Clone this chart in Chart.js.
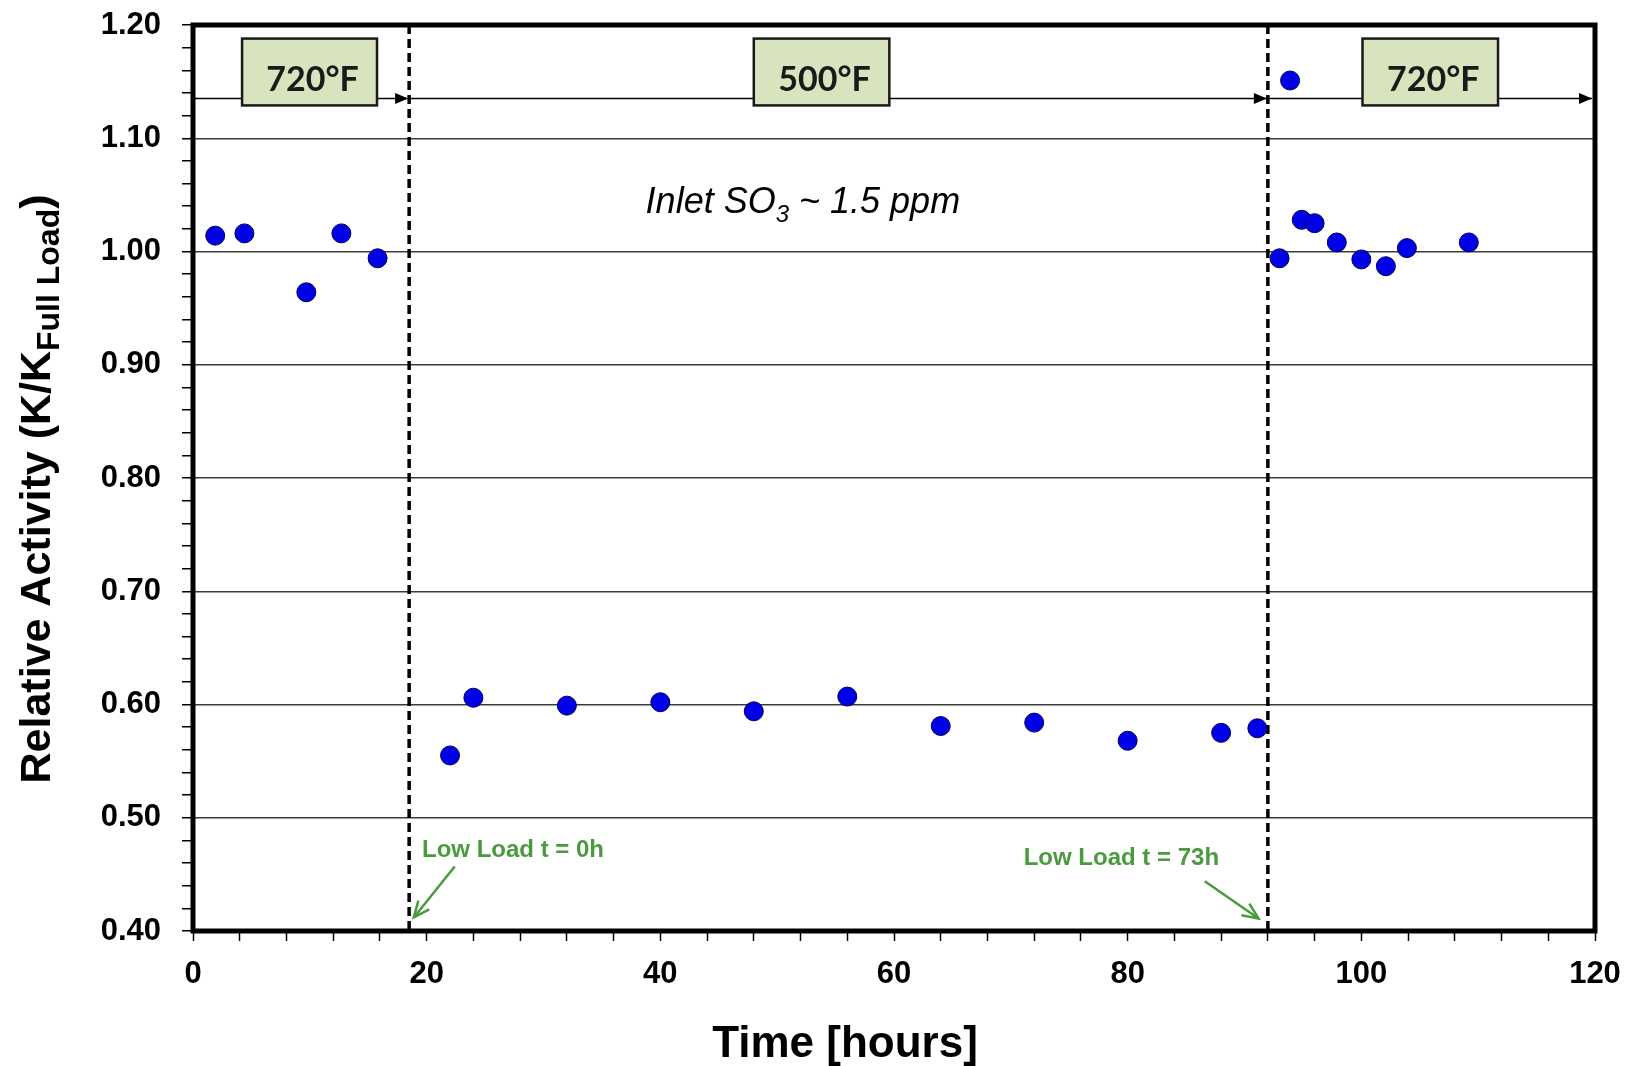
<!DOCTYPE html>
<html lang="en">
<head>
<meta charset="UTF-8">
<title>Relative Activity vs Time</title>
<script src="https://cdn.jsdelivr.net/npm/chart.js"></script>
<style>
  html, body { margin: 0; padding: 0; background: #fff; }
  canvas { display: block; }
</style>
</head>
<body>
<canvas id="chart" width="1637" height="1066"></canvas>
<script>
// full load, 720 F
const hoursBefore = [1.9, 4.4, 9.7, 12.7, 15.8];
const activityBefore = [1.014, 1.016, 0.964, 1.016, 0.994];
// low load, 500 F
const hoursLow = [22, 24, 32, 40, 48, 56, 64, 72, 80, 88, 91.1];
const activityLow = [0.555, 0.606, 0.599, 0.602, 0.594, 0.607, 0.581, 0.584, 0.568, 0.575, 0.579];
// back to 720 F
const hoursAfter = [93.0, 93.9, 94.9, 96.0, 97.9, 100.0, 102.1, 103.9, 109.2];
const activityAfter = [0.994, 1.151, 1.028, 1.025, 1.008, 0.993, 0.987, 1.003, 1.008];

const xTickLabels = [0, 20, 40, 60, 80, 100, 120];
const yTickLabels = ['0.40', '0.50', '0.60', '0.70', '0.80', '0.90', '1.00', '1.10', '1.20'];

const phaseBounds = [0, 18.5, 92, 120];
const phaseNames = ['720°F', '500°F', '720°F'];
const lowLoadNotes = ['Low Load t = 0h', 'Low Load t = 73h'];
const inletNote = ['Inlet SO', '3', ' ~ 1.5 ppm'];
const xTitle = 'Time [hours]';

const FONT = "'Liberation Sans', Arial, sans-serif";
const GREEN = '#4a9a3e';

function pts(xs, ys) {
  return xs.map((x, i) => ({ x: x, y: ys[i] }));
}

function isMajorY(v) {
  return yTickLabels.includes(v.toFixed(2)) && Math.abs(v * 10 - Math.round(v * 10)) < 1e-6;
}

function arrowHead(ctx, x1, y1, x2, y2, len, half, filled) {
  const a = Math.atan2(y2 - y1, x2 - x1);
  const bx = x2 - len * Math.cos(a), by = y2 - len * Math.sin(a);
  const px = -Math.sin(a) * half, py = Math.cos(a) * half;
  ctx.beginPath();
  ctx.moveTo(bx + px, by + py);
  ctx.lineTo(x2, y2);
  ctx.lineTo(bx - px, by - py);
  if (filled) { ctx.closePath(); ctx.fill(); } else { ctx.stroke(); }
}

const annotations = {
  id: 'annotations',
  beforeDatasetsDraw(chart) {
    const { ctx, chartArea: a } = chart;
    const sx = chart.scales.x, sy = chart.scales.y;
    ctx.save();

    // phase boundaries
    ctx.strokeStyle = '#000';
    ctx.lineWidth = 3.5;
    ctx.setLineDash([9, 5]);
    [phaseBounds[1], phaseBounds[2]].forEach(h => {
      const x = sx.getPixelForValue(h);
      ctx.beginPath();
      ctx.moveTo(x, a.top);
      ctx.lineTo(x, a.bottom);
      ctx.stroke();
    });
    ctx.setLineDash([]);

    // phase arrows
    const ay = sy.getPixelForValue(1.135);
    ctx.lineWidth = 1.5;
    ctx.fillStyle = '#000';
    for (let i = 0; i < 3; i++) {
      const x1 = sx.getPixelForValue(phaseBounds[i]);
      const x2 = sx.getPixelForValue(phaseBounds[i + 1]) - (i === 2 ? 3 : 1);
      ctx.beginPath();
      ctx.moveTo(x1, ay);
      ctx.lineTo(x2, ay);
      ctx.stroke();
      arrowHead(ctx, x1, ay, x2, ay, 13, 5.5, true);
    }

    // temperature boxes
    const boxes = [[4.2, 15.75], [48.0, 59.6], [100.1, 111.7]];
    const by1 = sy.getPixelForValue(1.188), by2 = sy.getPixelForValue(1.129);
    boxes.forEach((b, i) => {
      const x1 = sx.getPixelForValue(b[0]), x2 = sx.getPixelForValue(b[1]);
      ctx.fillStyle = '#d7e4bd';
      ctx.fillRect(x1, by1, x2 - x1, by2 - by1);
      ctx.lineWidth = 2.5;
      ctx.strokeStyle = '#1a1a1a';
      ctx.strokeRect(x1, by1, x2 - x1, by2 - by1);
      ctx.fillStyle = '#1a1a1a';
      ctx.font = "bold 34px Lato, 'Open Sans', sans-serif";
      ctx.textAlign = 'center';
      ctx.textBaseline = 'alphabetic';
      ctx.fillText(phaseNames[i], (x1 + x2) / 2 + 3, by1 + 52);
    });

    // inlet SO3 note
    ctx.fillStyle = '#000';
    ctx.textAlign = 'left';
    ctx.font = 'italic 36px ' + FONT;
    const w1 = ctx.measureText(inletNote[0]).width;
    const w3 = ctx.measureText(inletNote[2]).width;
    ctx.font = 'italic 24px ' + FONT;
    const w2 = ctx.measureText(inletNote[1]).width;
    const total = w1 + w2 + w3;
    let tx = sx.getPixelForValue(52.2) - total / 2;
    const ty = sy.getPixelForValue(1.034);
    ctx.font = 'italic 36px ' + FONT;
    ctx.fillText(inletNote[0], tx, ty);
    tx += w1;
    ctx.font = 'italic 24px ' + FONT;
    ctx.fillText(inletNote[1], tx, ty + 9);
    tx += w2;
    ctx.font = 'italic 36px ' + FONT;
    ctx.fillText(inletNote[2], tx, ty);

    // low load notes with arrows
    ctx.fillStyle = GREEN;
    ctx.strokeStyle = GREEN;
    ctx.font = 'bold 24px ' + FONT;
    ctx.fillText(lowLoadNotes[0], sx.getPixelForValue(19.6), sy.getPixelForValue(0.465));
    ctx.fillText(lowLoadNotes[1], sx.getPixelForValue(71.1), sy.getPixelForValue(0.458));
    ctx.lineWidth = 2.5;
    [[22.4, 0.457, 18.9, 0.412], [86.6, 0.444, 91.2, 0.411]].forEach(s => {
      const x1 = sx.getPixelForValue(s[0]), y1 = sy.getPixelForValue(s[1]);
      const x2 = sx.getPixelForValue(s[2]), y2 = sy.getPixelForValue(s[3]);
      ctx.beginPath();
      ctx.moveTo(x1, y1);
      ctx.lineTo(x2, y2);
      ctx.stroke();
      arrowHead(ctx, x1, y1, x2, y2, 16, 7, false);
    });
    ctx.restore();
  },
  afterDatasetsDraw(chart) {
    const { ctx, chartArea: a } = chart;
    ctx.save();
    ctx.strokeStyle = '#000';
    ctx.lineWidth = 5;
    ctx.strokeRect(a.left, a.top, a.right - a.left, a.bottom - a.top);
    ctx.restore();
  },
  afterDraw(chart) {
    const { ctx } = chart;
    ctx.save();
    ctx.fillStyle = '#000';
    ctx.textBaseline = 'alphabetic';

    // x axis title, sits left of the plot centre in the original
    ctx.textAlign = 'center';
    ctx.font = 'bold 44px ' + FONT;
    ctx.fillText(xTitle, 845, 1057);

    // y axis title with subscript
    const main1 = 'Relative Activity (K/K', sub = 'Full Load', main2 = ')';
    ctx.textAlign = 'left';
    ctx.font = 'bold 43px ' + FONT;
    const m1 = ctx.measureText(main1).width, m2 = ctx.measureText(main2).width;
    ctx.font = 'bold 32px ' + FONT;
    const s1 = ctx.measureText(sub).width;
    const total = m1 + s1 + m2;
    ctx.translate(50, 489);
    ctx.rotate(-Math.PI / 2);
    let x = -total / 2;
    ctx.font = 'bold 43px ' + FONT;
    ctx.fillText(main1, x, 0);
    x += m1;
    ctx.font = 'bold 32px ' + FONT;
    ctx.fillText(sub, x, 9);
    x += s1;
    ctx.font = 'bold 43px ' + FONT;
    ctx.fillText(main2, x, 0);
    ctx.restore();
  }
};

const pointStyle = {
  showLine: false,
  pointRadius: 9.5,
  pointHoverRadius: 9.5,
  pointBackgroundColor: '#0000e6',
  pointBorderColor: '#00005c',
  pointBorderWidth: 1
};

new Chart(document.getElementById('chart'), {
  type: 'scatter',
  data: {
    datasets: [
      Object.assign({ label: '720F before', data: pts(hoursBefore, activityBefore) }, pointStyle),
      Object.assign({ label: '500F', data: pts(hoursLow, activityLow) }, pointStyle),
      Object.assign({ label: '720F after', data: pts(hoursAfter, activityAfter) }, pointStyle)
    ]
  },
  options: {
    responsive: false,
    animation: false,
    devicePixelRatio: 1,
    layout: { padding: { top: 25, right: 42, bottom: 0, left: 0 } },
    plugins: { legend: { display: false }, tooltip: { enabled: false } },
    scales: {
      x: {
        type: 'linear',
        min: 0,
        max: 120,
        afterFit(scale) { scale.height = 135; },
        border: { display: false },
        grid: { drawOnChartArea: false, tickLength: 10, tickColor: '#000', tickWidth: 1.5 },
        ticks: {
          stepSize: 4,
          autoSkip: false,
          maxRotation: 0,
          padding: 15,
          color: '#000',
          font: { family: FONT, size: 31, weight: 'bold' },
          callback: v => xTickLabels.includes(v) ? String(v) : ''
        }
      },
      y: {
        min: 0.4,
        max: 1.2,
        afterFit(scale) {
          scale.width = 193;
          scale.paddingTop = 0;
          scale.paddingBottom = 0;
        },
        border: { display: false },
        grid: {
          color: c => (c.tick && isMajorY(c.tick.value)) ? '#3c3c3c' : 'rgba(0,0,0,0)',
          lineWidth: 1.5,
          tickLength: 11,
          tickColor: '#000',
          tickWidth: 1.5
        },
        ticks: {
          stepSize: 0.02,
          autoSkip: false,
          padding: 21,
          color: '#000',
          font: { family: FONT, size: 31, weight: 'bold' },
          callback: v => isMajorY(v) ? v.toFixed(2) : ''
        }
      }
    }
  },
  plugins: [annotations]
});
</script>
</body>
</html>
